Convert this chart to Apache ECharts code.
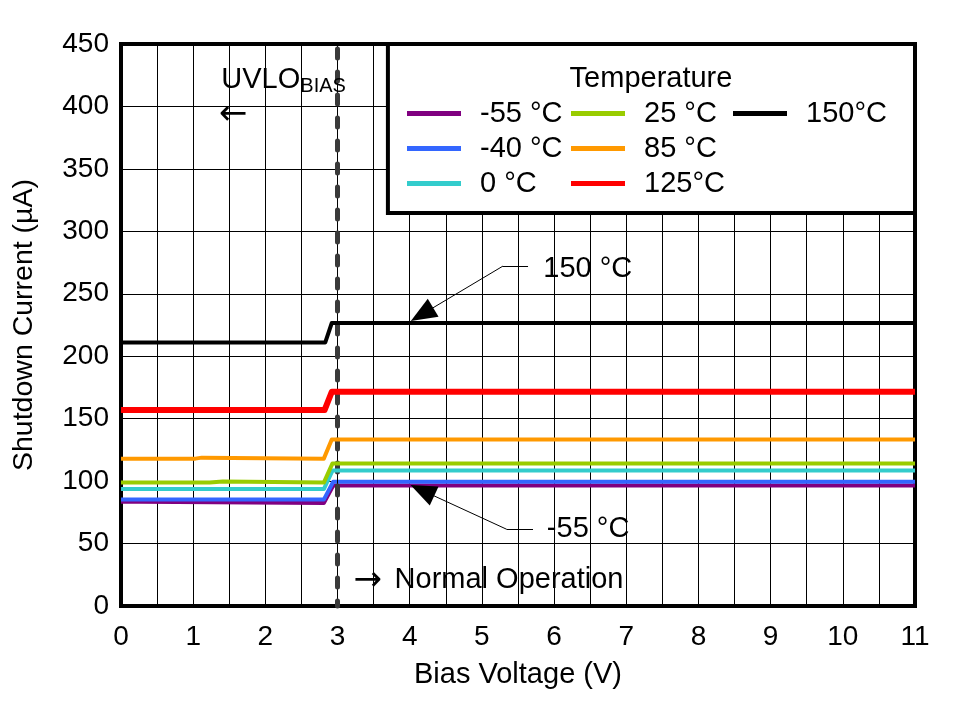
<!DOCTYPE html>
<html>
<head>
<meta charset="utf-8">
<script src="https://cdn.jsdelivr.net/npm/echarts@6/dist/echarts.min.js"></script>
<style>html,body{margin:0;padding:0;background:#fff}#c{width:956px;height:701px}</style>
</head>
<body>
<div id="c"></div>
<script>
// ---- data (Bias Voltage V, Shutdown Current uA) ----
const seriesNames = ['-55 °C', '-40 °C', '0 °C', '25 °C', '85 °C', '125°C', '150°C'];
const seriesColors = ['#800080', '#3366FF', '#33CCCC', '#99CC00', '#FF9900', '#FF0000', '#000000'];
const seriesWidths = [4, 4, 4, 4, 4, 6, 4];
const tM55 = [[0, 83.5], [0.26, 83.5], [0.27, 82.4], [2.81, 82.4], [2.94, 96.5], [11, 96.5]];
const tM40 = [[0, 85.2], [2.81, 85.2], [2.94, 99.5], [11, 99.5]];
const t0 = [[0, 93.6], [2.81, 93.6], [2.93, 108.4], [11, 108.4]];
const t25 = [[0, 98.8], [1.23, 98.8], [1.24, 99.6], [1.41, 99.6], [1.42, 98.8], [2.81, 98.8], [2.93, 114.2], [11, 114.2]];
const t85 = [[0, 118], [1.03, 118], [1.04, 118.8], [1.12, 118.8], [1.13, 118], [2.81, 118], [2.92, 133.3], [11, 133.3]];
const t125 = [[0, 156.9], [2.82, 156.9], [2.92, 171.5], [11, 171.5]];
const t150 = [[0, 211], [2.83, 211], [2.92, 226.6], [11, 226.6]];
const seriesData = [tM55, tM40, t0, t25, t85, t125, t150];
const xTicks = { min: 0, max: 11, interval: 1 };
const yTicks = { min: 0, max: 450, interval: 50 };
const uvloBias = 3;
// annotation leaders (data coords)
const ann150 = { tip: [4.17, 233.5], bend: [5.292, 272.2], end: [5.639, 272.2], text: [5.85, 269.5], label: '150 °C' };
const annM55 = { tip: [4.175, 92.5], bend: [5.344, 61.4], end: [5.708, 61.4], text: [5.9, 61.4], label: '-55 °C' };

const FONT = "'Liberation Sans', Arial, sans-serif";
const chart = echarts.init(document.getElementById('c'), null, { renderer: 'canvas' });

function leader(a) {
  return [
    [{ coord: a.bend, symbol: 'none' }, { coord: a.tip, symbol: 'triangle', symbolSize: [21, 26] }],
    [{ coord: a.bend, symbol: 'none' }, { coord: a.end, symbol: 'none' }]
  ];
}

const series = seriesNames.map((n, i) => ({
  name: n,
  type: 'line',
  data: seriesData[i],
  symbol: 'none',
  silent: true,
  animation: false,
  z: 3 + i,
  lineStyle: { color: seriesColors[i], width: seriesWidths[i], join: 'round' },
  itemStyle: { color: seriesColors[i] }
}));

series[6].markLine = {
  silent: true, animation: false,
  label: { show: false },
  lineStyle: { color: '#000', width: 1, type: 'solid' },
  data: [...leader(ann150), ...leader(annM55)]
};
series[0].markLine = {
  silent: true, animation: false, symbol: ['none', 'none'],
  label: { show: false },
  data: [
    { xAxis: uvloBias, lineStyle: { color: '#000', width: 1, type: 'solid' } },
    { xAxis: uvloBias, lineStyle: { color: '#3a3a3a', width: 5, type: [9, 14], cap: 'round', dashOffset: 4 } }
  ]
};

const legendCommon = {
  orient: 'vertical', top: 94, itemWidth: 54, itemHeight: 5, itemGap: 6,
  selectedMode: false, z: 20, icon: 'rect',
  textStyle: { fontFamily: FONT, fontSize: 29, color: '#000', lineHeight: 29, padding: [0, 0, 0, 14] }
};

const option = {
  animation: false,
  backgroundColor: '#fff',
  grid: { left: 121, right: 41, top: 44, bottom: 95, show: true, borderColor: '#000', borderWidth: 4, backgroundColor: 'transparent' },
  xAxis: {
    type: 'value', min: xTicks.min, max: xTicks.max, interval: xTicks.interval,
    name: 'Bias Voltage (V)', nameLocation: 'middle', nameGap: 54,
    nameTextStyle: { fontFamily: FONT, fontSize: 29, color: '#000' },
    axisLine: { show: false }, axisTick: { show: false },
    axisLabel: { fontFamily: FONT, fontSize: 28, color: '#000', margin: 17 },
    splitLine: { show: true, lineStyle: { color: '#000', width: 1 } },
    minorTick: { show: false, splitNumber: 2 },
    minorSplitLine: { show: true, lineStyle: { color: '#000', width: 1 } }
  },
  yAxis: {
    type: 'value', min: yTicks.min, max: yTicks.max, interval: yTicks.interval,
    name: 'Shutdown Current (µA)', nameLocation: 'middle', nameGap: 82,
    nameTextStyle: { fontFamily: FONT, fontSize: 28.5, color: '#000' },
    axisLine: { show: false }, axisTick: { show: false },
    axisLabel: { fontFamily: FONT, fontSize: 28, color: '#000', margin: 12 },
    splitLine: { show: true, lineStyle: { color: '#000', width: 1 } }
  },
  legend: [
    Object.assign({}, legendCommon, { left: 402, data: [seriesNames[0], seriesNames[1], seriesNames[2]] }),
    Object.assign({}, legendCommon, { left: 566, data: [seriesNames[3], seriesNames[4], seriesNames[5]] }),
    Object.assign({}, legendCommon, { left: 728, data: [seriesNames[6]] })
  ],
  series: series
};
chart.setOption(option);

function px(p) { return chart.convertToPixel({ gridIndex: 0 }, p); }
const p150 = px(ann150.text), pM55 = px(annM55.text);
const uv = px([1.39, 421]);
const uvArrow = px([1.55, 393]);
const noArrowP = px([3.42, 20.2]);
const noText = px([3.79, 20.5]);
const tl = px([3.67, 450]), br = px([11, 314.7]);

chart.setOption({
  graphic: [
    { type: 'rect', z: 10, shape: { x: tl[0] + 2, y: tl[1], width: br[0] - tl[0] - 2, height: br[1] - tl[1] },
      style: { fill: '#fff', stroke: '#000', lineWidth: 4 } },
    { type: 'text', z: 21, x: 651, y: tl[1] + 35,
      style: { text: 'Temperature', font: `29px ${FONT}`, fill: '#000', textAlign: 'center', textVerticalAlign: 'middle' } },
    { type: 'text', z: 21, x: p150[0], y: p150[1],
      style: { text: ann150.label, font: `29px ${FONT}`, fill: '#000', textAlign: 'left', textVerticalAlign: 'middle' } },
    { type: 'text', z: 21, x: pM55[0], y: pM55[1],
      style: { text: annM55.label, font: `29px ${FONT}`, fill: '#000', textAlign: 'left', textVerticalAlign: 'middle' } },
    { type: 'text', z: 21, x: uv[0], y: uv[1],
      style: { rich: { a: { fontFamily: FONT, fontSize: 29, color: '#000' }, b: { fontFamily: FONT, fontSize: 20, color: '#000', padding: [13, 0, 0, 0] } },
        text: '{a|UVLO}{b|BIAS}', textAlign: 'left', textVerticalAlign: 'middle' } },
    { type: 'text', z: 21, x: uvArrow[0], y: uvArrow[1],
      style: { text: '←', font: `34px 'DejaVu Sans', ${FONT}`, fill: '#000', textAlign: 'center', textVerticalAlign: 'middle' } },
    { type: 'text', z: 21, x: noArrowP[0], y: noArrowP[1],
      style: { text: '→', font: `34px 'DejaVu Sans', ${FONT}`, fill: '#000', textAlign: 'center', textVerticalAlign: 'middle' } },
    { type: 'text', z: 21, x: noText[0], y: noText[1],
      style: { text: 'Normal Operation', font: `29px ${FONT}`, fill: '#000', textAlign: 'left', textVerticalAlign: 'middle' } }
  ]
});
</script>
</body>
</html>
